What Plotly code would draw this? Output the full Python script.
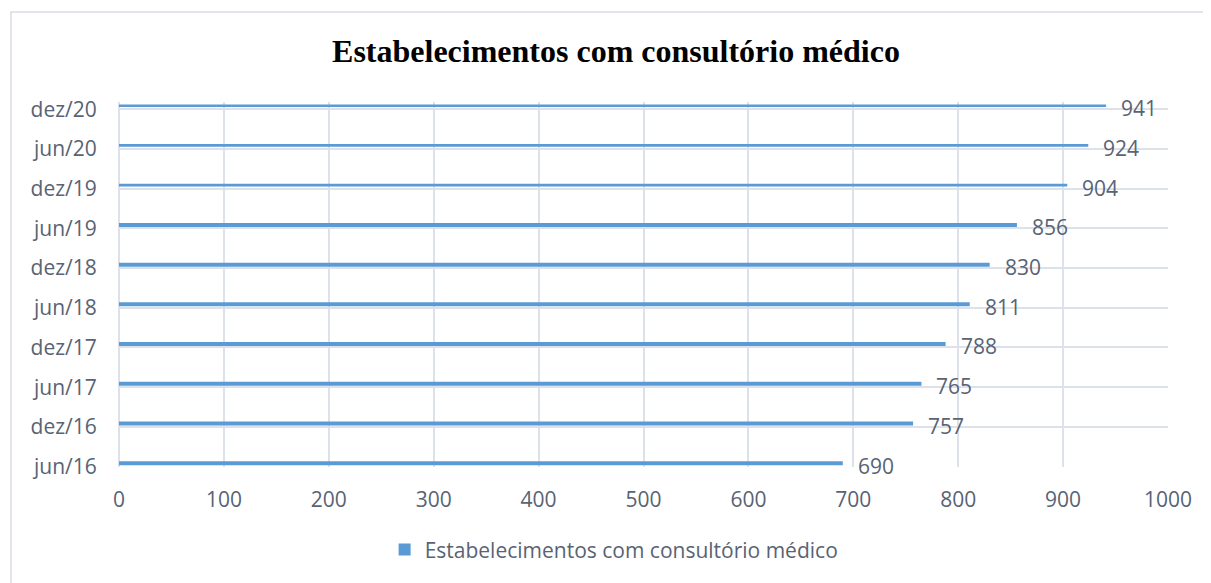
import plotly.graph_objects as go

categories = ["jun/16", "dez/16", "jun/17", "dez/17", "jun/18", "dez/18", "jun/19", "dez/19", "jun/20", "dez/20"]
values = [690, 757, 765, 788, 811, 830, 856, 904, 924, 941]
x_ticks = [0, 100, 200, 300, 400, 500, 600, 700, 800, 900, 1000]
series_name = "Estabelecimentos com consultório médico"
title_text = "Estabelecimentos com consultório médico"

positions = list(range(len(categories)))
bar_widths = [0.1] * 7 + [0.065] * 3
bar_offsets = [0.035] * 7 + [0.055] * 3

TXT = "#586374"
GRID = "#dde2ea"
FONT = "Open Sans"
W, H = 1203, 575  # page body has an 8px margin

fig = go.Figure()
fig.add_trace(go.Bar(
    x=values, y=positions, orientation="h",
    width=bar_widths, offset=bar_offsets,
    marker=dict(color="#5b9bd5", line=dict(width=0)),
    name=series_name, showlegend=True,
))

for v, p in zip(values, positions):
    fig.add_annotation(x=v, y=p, text=str(v), showarrow=False, xanchor="left",
                       yanchor="middle", xshift=13, yshift=1,
                       font=dict(family=FONT, size=21, color=TXT))

fig.add_shape(type="rect", xref="paper", yref="paper",
              x0=-0.103, x1=1.2, y0=-0.6, y1=1.2466,
              line=dict(color="#d9dee5", width=1.5), fillcolor="rgba(0,0,0,0)", layer="below")

fig.update_layout(
    width=W, height=H, autosize=False,
    margin=dict(l=111, r=43, t=94, b=116),
    paper_bgcolor="white", plot_bgcolor="white",
    title=dict(text="<b>" + title_text + "</b>", xref="container", x=608 / W, xanchor="center",
               y=1 - 43 / H, yanchor="middle",
               font=dict(family="Liberation Serif", size=32, color="black")),
    xaxis=dict(range=[0, 1000], tickvals=x_ticks, ticktext=[str(t) for t in x_ticks],
               showgrid=True, gridcolor=GRID, gridwidth=2,
               zeroline=True, zerolinecolor=GRID, zerolinewidth=2,
               showline=False, ticks="outside", ticklen=14, tickcolor="rgba(0,0,0,0)",
               tickfont=dict(family=FONT, size=21, color=TXT), fixedrange=True),
    yaxis=dict(range=[-0.01, 9.18], tickvals=positions, ticktext=categories,
               showgrid=True, gridcolor=GRID, gridwidth=2, zeroline=False, showline=False,
               ticks="outside", ticklen=17, tickcolor="rgba(0,0,0,0)",
               tickfont=dict(family=FONT, size=21, color=TXT), fixedrange=True),
    legend=dict(orientation="h", x=0.472, xanchor="center", y=-0.227, yanchor="middle",
                font=dict(family=FONT, size=21, color=TXT), itemwidth=30),
    showlegend=True,
)

fig.write_html("out.html")
